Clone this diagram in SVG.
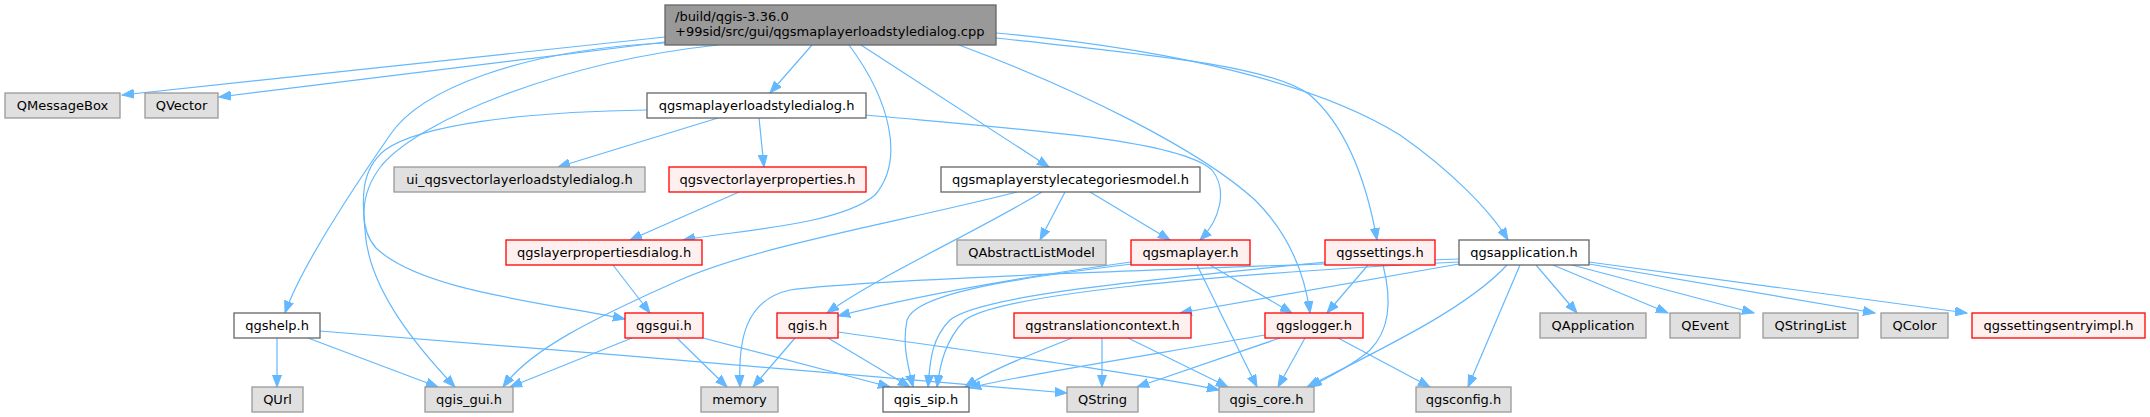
<svg xmlns="http://www.w3.org/2000/svg" width="2150" height="417" viewBox="0 0 2150 417">
<style>
.n rect{stroke-width:1.3}
.g rect{fill:#e0e0e0;stroke:#999999}
.w rect{fill:#ffffff;stroke:#666666}
.r rect{fill:#fff0f0;stroke:#ff0000}
.t rect{fill:#999999;stroke:#666666}
text{font-family:"DejaVu Sans","Liberation Sans",sans-serif;font-size:13px;fill:#000000}
.c text{text-anchor:middle}
#edges path{fill:none;stroke:#63b8ff;stroke-width:1.2;marker-end:url(#a)}
</style>
<defs>
<marker id="a" markerWidth="13" markerHeight="10" refX="12" refY="5" orient="auto" markerUnits="userSpaceOnUse"><path d="M0,0.5 L12,5 L0,9.5 z" fill="#63b8ff" stroke="#63b8ff" stroke-width="1"/></marker>
</defs>
<rect width="2150" height="417" fill="#ffffff"/>
<g id="edges">
<path d="M665,37 L122,95"/>
<path d="M665,42 L219,97"/>
<path d="M665,43 C520,50 420,90 390,135 C345,200 300,270 285,313"/>
<path d="M718,45 C560,62 420,120 382,165 C358,195 360,230 376,248 C420,290 540,302 625,319"/>
<path d="M647,110 C520,112 420,125 385,150 C360,170 362,200 365,230 C368,290 420,350 455,387"/>
<path d="M812,45 L770,93"/>
<path d="M849,45 C890,100 905,160 875,195 C840,225 740,230 683,240"/>
<path d="M861,45 L1049,167"/>
<path d="M959,45 C1080,90 1200,150 1255,200 C1290,235 1305,275 1310,313"/>
<path d="M996,38 C1150,55 1270,65 1310,95 C1350,130 1368,190 1377,240"/>
<path d="M996,33 C1180,50 1320,85 1400,135 C1450,170 1490,210 1508,240"/>
<path d="M718,118 L558,167"/>
<path d="M759,118 L764,167"/>
<path d="M866,115 C1030,130 1180,140 1212,170 C1228,190 1220,220 1200,240"/>
<path d="M739,192 L630,240"/>
<path d="M1017,192 C900,222 760,245 680,280 C590,320 530,350 503,387"/>
<path d="M1042,192 C980,230 880,275 827,313"/>
<path d="M1065,192 L1040,240"/>
<path d="M1090,192 L1170,240"/>
<path d="M613,265 L650,313"/>
<path d="M277,338 L277,387"/>
<path d="M308,338 L438,387"/>
<path d="M320,331 C550,348 900,380 1067,393"/>
<path d="M632,338 L510,387"/>
<path d="M677,338 L727,387"/>
<path d="M703,338 L890,387"/>
<path d="M795,338 L753,387"/>
<path d="M828,338 L910,387"/>
<path d="M838,332 C1000,355 1150,375 1219,390"/>
<path d="M1131,262 C1000,280 900,300 838,316"/>
<path d="M1132,264 C1000,280 915,295 907,320 C902,345 908,365 913,387"/>
<path d="M1197,265 L1257,387"/>
<path d="M1210,265 L1292,313"/>
<path d="M1368,265 L1327,313"/>
<path d="M1383,265 C1392,300 1390,330 1370,350 C1350,368 1325,378 1310,387"/>
<path d="M1325,262 C1150,280 980,295 950,320 C930,340 930,365 928,387"/>
<path d="M1459,264 L1180,313"/>
<path d="M1459,262 C1200,275 1000,295 965,320 C945,340 940,365 937,387"/>
<path d="M1459,259 C1150,270 860,280 790,290 C745,300 738,340 740,387"/>
<path d="M1507,265 C1470,305 1400,340 1307,387"/>
<path d="M1520,265 L1468,387"/>
<path d="M1536,265 L1577,313"/>
<path d="M1553,265 L1668,313"/>
<path d="M1572,265 L1754,313"/>
<path d="M1589,264 L1875,313"/>
<path d="M1589,262 L1967,313"/>
<path d="M1102,338 L1102,387"/>
<path d="M1128,338 L1228,387"/>
<path d="M1072,338 C1030,355 990,370 965,387"/>
<path d="M1280,338 L1137,387"/>
<path d="M1305,338 L1278,387"/>
<path d="M1338,338 L1430,387"/>
<path d="M1265,335 C1150,355 1020,375 969,388"/>
</g>
<g id="n_main" class="n t"><rect x="665" y="5" width="331" height="40"/><text x="675" y="21">/build/qgis-3.36.0</text><text x="675" y="36">+99sid/src/gui/qgsmaplayerloadstyledialog.cpp</text></g>
<g id="n_qmessagebox" class="n g c"><rect x="5" y="93" width="115" height="25"/><text x="62.5" y="110">QMessageBox</text></g>
<g id="n_qvector" class="n g c"><rect x="145" y="93" width="73" height="25"/><text x="181.5" y="110">QVector</text></g>
<g id="n_loadstyledialog" class="n w c"><rect x="647" y="93" width="219" height="25"/><text x="756.5" y="110">qgsmaplayerloadstyledialog.h</text></g>
<g id="n_ui" class="n g c"><rect x="394" y="167" width="251" height="25"/><text x="519.5" y="184">ui_qgsvectorlayerloadstyledialog.h</text></g>
<g id="n_vlprops" class="n r c"><rect x="669" y="167" width="197" height="25"/><text x="767.5" y="184">qgsvectorlayerproperties.h</text></g>
<g id="n_catmodel" class="n w c"><rect x="941" y="167" width="259" height="25"/><text x="1070.5" y="184">qgsmaplayerstylecategoriesmodel.h</text></g>
<g id="n_layerpropsdlg" class="n r c"><rect x="506" y="240" width="196" height="25"/><text x="604" y="257">qgslayerpropertiesdialog.h</text></g>
<g id="n_qabstractlistmodel" class="n g c"><rect x="957" y="240" width="149" height="25"/><text x="1031.5" y="257">QAbstractListModel</text></g>
<g id="n_qgsmaplayer" class="n r c"><rect x="1131" y="240" width="119" height="25"/><text x="1190.5" y="257">qgsmaplayer.h</text></g>
<g id="n_qgssettings" class="n r c"><rect x="1325" y="240" width="110" height="25"/><text x="1380" y="257">qgssettings.h</text></g>
<g id="n_qgsapplication" class="n w c"><rect x="1459" y="240" width="130" height="25"/><text x="1524" y="257">qgsapplication.h</text></g>
<g id="n_qgshelp" class="n w c"><rect x="234" y="313" width="86" height="25"/><text x="277" y="330">qgshelp.h</text></g>
<g id="n_qgsgui" class="n r c"><rect x="625" y="313" width="78" height="25"/><text x="664" y="330">qgsgui.h</text></g>
<g id="n_qgis" class="n r c"><rect x="777" y="313" width="61" height="25"/><text x="807.5" y="330">qgis.h</text></g>
<g id="n_translationcontext" class="n r c"><rect x="1014" y="313" width="177" height="25"/><text x="1102.5" y="330">qgstranslationcontext.h</text></g>
<g id="n_qgslogger" class="n r c"><rect x="1265" y="313" width="98" height="25"/><text x="1314" y="330">qgslogger.h</text></g>
<g id="n_qapplication" class="n g c"><rect x="1540" y="313" width="106" height="25"/><text x="1593" y="330">QApplication</text></g>
<g id="n_qevent" class="n g c"><rect x="1670" y="313" width="70" height="25"/><text x="1705" y="330">QEvent</text></g>
<g id="n_qstringlist" class="n g c"><rect x="1763" y="313" width="95" height="25"/><text x="1810.5" y="330">QStringList</text></g>
<g id="n_qcolor" class="n g c"><rect x="1881" y="313" width="67" height="25"/><text x="1914.5" y="330">QColor</text></g>
<g id="n_settingsentryimpl" class="n r c"><rect x="1972" y="313" width="173" height="25"/><text x="2058.5" y="330">qgssettingsentryimpl.h</text></g>
<g id="n_qurl" class="n g c"><rect x="252" y="387" width="51" height="25"/><text x="277.5" y="404">QUrl</text></g>
<g id="n_qgis_gui" class="n g c"><rect x="425" y="387" width="88" height="25"/><text x="469" y="404">qgis_gui.h</text></g>
<g id="n_memory" class="n g c"><rect x="701" y="387" width="77" height="25"/><text x="739.5" y="404">memory</text></g>
<g id="n_qgis_sip" class="n w c"><rect x="883" y="387" width="86" height="25"/><text x="926" y="404">qgis_sip.h</text></g>
<g id="n_qstring" class="n g c"><rect x="1067" y="387" width="71" height="25"/><text x="1102.5" y="404">QString</text></g>
<g id="n_qgis_core" class="n g c"><rect x="1219" y="387" width="95" height="25"/><text x="1266.5" y="404">qgis_core.h</text></g>
<g id="n_qgsconfig" class="n g c"><rect x="1416" y="387" width="95" height="25"/><text x="1463.5" y="404">qgsconfig.h</text></g>
</svg>
